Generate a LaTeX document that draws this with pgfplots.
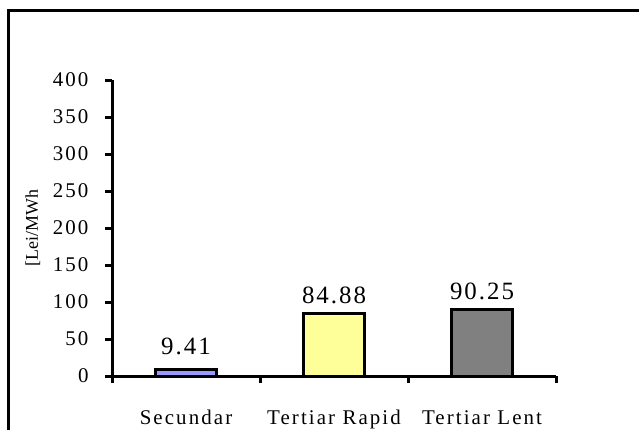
\documentclass[border=0pt]{standalone}
\usepackage{pgfplots}
\pgfplotsset{compat=1.18}
\usepackage{fontspec}
\setmainfont{Liberation Serif}
\newfontfamily\tickfont[LetterSpace=10]{Liberation Serif}
\newfontfamily\xlabfont[LetterSpace=10]{Liberation Serif}
\newfontfamily\valfont[LetterSpace=8]{Liberation Serif}
\definecolor{barblue}{HTML}{9999FF}
\definecolor{baryellow}{HTML}{FFFF99}
\definecolor{bargray}{HTML}{808080}
\begin{document}
\begin{tikzpicture}[x=1bp,y=1bp]
\path[use as bounding box] (0,0) rectangle (639,430);
\draw[line width=3bp] (8.7,0) -- (8.7,419.3) -- (639,419.3);
\begin{axis}[
  at={(112bp,54bp)}, anchor=south west,
  scale only axis, width=444bp, height=296bp,
  xmin=-0.5, xmax=2.5, ymin=0, ymax=400,
  ytick={0,50,...,400},
  xtick={0,1,2},
  xticklabels={Secundar,Tertiar Rapid,Tertiar Lent},
  minor xtick={-0.5,0.5,1.5,2.5},
  major x tick style={draw=none},
  axis x line*=bottom, axis y line*=left,
  axis line style={-, line width=3bp},
  every tick/.style={black, line width=3bp},
  tick align=outside,
  major tick length=7bp, minor tick length=7bp,
  /pgf/number format/assume math mode=true,
  yticklabel style={font={\tickfont\fontsize{21}{25}\selectfont}, anchor=east, xshift=-13bp},
  xticklabel style={font={\xlabfont\fontsize{21}{25}\selectfont}, anchor=base, yshift=-41bp},
  ylabel={[Lei/MWh},
  ylabel style={font={\fontsize{18}{22}\selectfont}, at={(axis description cs:-0.178,0.5)}, anchor=center},
  ybar, bar width=0.41, bar shift=0pt,
  clip=false,
  nodes near coords={\pgfmathprintnumber[fixed,precision=2,fixed zerofill]{\pgfplotspointmeta}},
  every node near coord/.append style={font={\valfont\fontsize{25}{30}\selectfont}, anchor=base, yshift=10bp},
]
\addplot[fill=barblue, draw=black, line width=3bp, every node near coord/.append style={yshift=5bp}] coordinates {(0,9.41)};
\addplot[fill=baryellow, draw=black, line width=3bp] coordinates {(1,84.88)};
\addplot[fill=bargray, draw=black, line width=3bp] coordinates {(2,90.25)};
\end{axis}
\end{tikzpicture}
\end{document}
